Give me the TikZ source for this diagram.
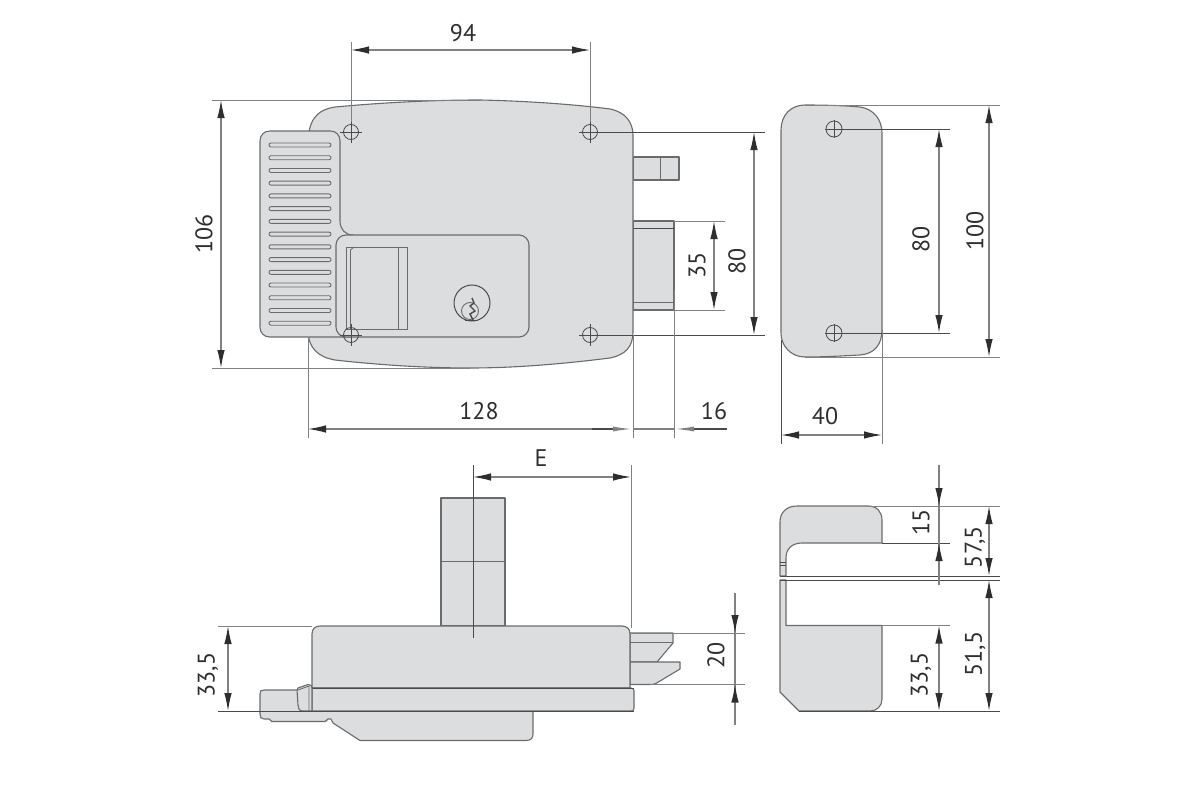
\documentclass[tikz,border=0pt]{standalone}
\usepackage{fontspec}
\setmainfont{PT Sans}
\usetikzlibrary{arrows.meta,calc}
\definecolor{fillgrey}{HTML}{DCDDDF}
\definecolor{edge}{HTML}{6A6B6D}
\definecolor{darkedge}{HTML}{4A4A4C}
\definecolor{dimgrey}{HTML}{808183}
\definecolor{inkgrey}{HTML}{2E2E30}
\tikzset{
  part/.style={fill=fillgrey,draw=edge,line width=1.1pt,line join=round},
  detail/.style={draw=edge,line width=0.9pt},
  darkdetail/.style={draw=darkedge,line width=1pt},
  ext/.style={draw=dimgrey,line width=1pt},
  extdark/.style={draw=darkedge,line width=0.9pt},
  dimline/.style={draw=dimgrey,line width=1.2pt},
  dimboth/.style={dimline,{Latex[length=18pt,width=7.5pt,color=inkgrey]}-{Latex[length=18pt,width=7.5pt,color=inkgrey]}},
  dimend/.style={dimline,-{Latex[length=18pt,width=7.5pt,color=inkgrey]}},
  greytip/.style={draw=darkedge,line width=1.6pt,-{Latex[length=20pt,width=5pt,color=dimgrey]}},
  dimlabel/.style={text=inkgrey,font=\fontsize{24}{24}\selectfont,inner sep=0pt},
  hole/.style={draw=darkedge,line width=0.8pt},
}
\newcommand{\fixhole}[1]{%
  \draw[hole] (#1) circle[radius=7.5];
  \draw[hole] ($(#1)+(-11,0)$) -- ($(#1)+(11,0)$);
  \draw[hole] ($(#1)+(0,-11)$) -- ($(#1)+(0,11)$);
}
\begin{document}
\begin{tikzpicture}[x=1pt,y=-1pt]
\useasboundingbox (0,0) rectangle (1200,800);
% ---------- front view ----------
\draw[part] (633,157) rectangle (679,180);
\draw[detail] (660,157) -- (660,180);
\draw[part] (633,221) rectangle (674,310);
\draw[darkdetail] (633,228) -- (674,228);
\draw[detail] (633,302) -- (674,302);
% plate
\draw[part] (308,145) .. controls (308,122) and (315,110) .. (335,107)
  .. controls (400,101) and (450,100) .. (480,100)
  .. controls (530,101) and (580,105) .. (610,109)
  .. controls (625,112) and (633,122) .. (633,135)
  -- (633,332)
  .. controls (633,347) and (625,355) .. (610,358)
  .. controls (570,363) and (520,368) .. (470,368)
  .. controls (420,368) and (370,364) .. (335,360)
  .. controls (318,357) and (308,348) .. (308,330) -- cycle;
% handle panel and notch
\draw[part] (270,131) -- (330,131) .. controls (336,131) and (340,135) .. (340,141)
  -- (340,221) .. controls (340,229) and (345,235) .. (353,235)
  -- (350,337) -- (270,337) .. controls (264,337) and (260,333) .. (260,327)
  -- (260,141) .. controls (260,135) and (264,131) .. (270,131) -- cycle;
\foreach \i in {0,...,14}{
  \draw[detail,rounded corners=2pt,fill=fillgrey]
    (269,{143+\i*12.73}) rectangle (331,{147+\i*12.73});
}
% lock panel
\draw[part,rounded corners=10pt] (336,235) rectangle (529,337);
% window
\draw[detail] (346,247) rectangle (407,329);
\draw[detail] (398,247) -- (398,329);
\draw[detail] (354,247) -- (350.5,250) -- (350.5,329);
% cylinder
\draw[darkdetail] (472,303) circle[radius=18];
\draw[detail] (470,311) circle[radius=8.5];
\draw[darkedge,line width=1.4pt] (472,298) -- (474,303) -- (470,306) -- (475,311) -- (470,314) -- (473,320);
\draw[darkedge,line width=1pt] (465,320) -- (478,320);
% holes
\fixhole{351,132}
\fixhole{351,335}
\fixhole{590,132}
\fixhole{590,335}
% dims, front view
\draw[ext] (212,100) -- (480,100);
\draw[ext] (212,368) -- (470,368);
\draw[dimboth] (221,100) -- (221,368);
\node[dimlabel,rotate=90] (d106) at (204,234) {106};
\draw[ext] (351,42) -- (351,122);
\draw[ext] (590,42) -- (590,122);
\draw[dimboth] (351,50) -- (590,50);
\node[dimlabel] (d94) at (463,33) {94};
\draw[extdark] (590,132) -- (765,132);
\draw[extdark] (590,335) -- (765,335);
\draw[dimboth] (754,132) -- (754,335);
\node[dimlabel,rotate=90] (d80a) at (737,261) {80};
\draw[ext] (674,221) -- (725,221);
\draw[ext] (674,310) -- (725,310);
\draw[dimboth] (714,221) -- (714,310);
\node[dimlabel,rotate=90] (d35) at (697,265) {35};
\draw[ext] (308,337) -- (308,438);
\draw[ext] (633,335) -- (633,438);
\draw[ext] (674,290) -- (674,438);
\draw[dimline,{Latex[length=18pt,width=7.5pt,color=inkgrey]}-] (308,429) -- (592,429);
\draw[greytip] (592,429) -- (633,429);
\draw[dimline] (633,429) -- (674,429);
\draw[greytip] (727,429) -- (674,429);
\node[dimlabel] (d128) at (479,411) {128};
\node[dimlabel] (d16) at (714,411) {16};
% ---------- side view, top right ----------
\draw[part] (805,105) .. controls (830,105) and (850,106) .. (860,107)
  .. controls (874,109) and (882,120) .. (882,133)
  -- (882,330)
  .. controls (882,345) and (874,354) .. (860,355)
  .. controls (840,356) and (825,357) .. (805,357)
  .. controls (790,357) and (781,345) .. (781,333)
  -- (781,130)
  .. controls (781,115) and (791,105) .. (805,105) -- cycle;
\draw[hole] (834,129) circle[radius=8];
\draw[hole] (825,129) -- (843,129);
\draw[hole] (834,120) -- (834,138);
\draw[hole] (834,333) circle[radius=8];
\draw[hole] (825,333) -- (843,333);
\draw[hole] (834,324) -- (834,342);
\draw[extdark] (834,129) -- (950,129);
\draw[extdark] (834,333) -- (950,333);
\draw[dimboth] (939,129) -- (939,333);
\node[dimlabel,rotate=90] (d80b) at (921,239) {80};
\draw[ext] (805,105) -- (1000,105);
\draw[ext] (805,357) -- (1000,357);
\draw[dimboth] (989,105) -- (989,357);
\node[dimlabel,rotate=90] (d100) at (975,231) {100};
\draw[extdark] (781,340) -- (781,444);
\draw[ext] (882,330) -- (882,444);
\draw[dimboth] (781,435) -- (882,435);
\node[dimlabel] (d40) at (825,416) {40};
% ---------- bottom left view ----------
\draw[part] (441,498) rectangle (505,626);
\draw[detail] (441,561) -- (505,561);
% handle (fill, then its visible outline)
\fill[fillgrey] (260,690) rectangle (335,719);
\fill[fillgrey] (270,719) rectangle (328,721.5);
\draw[edge,line width=1.1pt] (312,690) -- (264,690)
  .. controls (261,690) and (260,691) .. (260,694) -- (260,714)
  .. controls (260,717) and (261,719) .. (264,719) -- (269,719)
  -- (272,721.5) -- (325,721.5) -- (328,719) -- (331,719);
% lower boss
\fill[fillgrey] (331,711) rectangle (340,722);
\fill[fillgrey] (331,711) -- (331,719) -- (333,723) -- (360,740.5) -- (526,740.5)
  .. controls (531,740.5) and (533,738) .. (533,734) -- (533,711) -- cycle;
\draw[edge,line width=1.1pt,line join=round] (331,719) -- (333,723) -- (360,740.5) -- (526,740.5)
  .. controls (531,740.5) and (533,738) .. (533,734) -- (533,711);
% bolts
\draw[part] (630,633) -- (673,633) -- (673,643) -- (657,662) -- (630,662) -- cycle;
\draw[detail] (630,642) -- (673,642);
\draw[part] (630,662) -- (680,662) -- (680,669) -- (660,681)
  .. controls (657,683) and (655,684.5) .. (650,684.5) -- (630,684.5) -- cycle;
% body
\draw[part] (312,688) -- (312,634) .. controls (312,629) and (315,626) .. (320,626)
  -- (622,626) .. controls (627,626) and (630,629) .. (630,634) -- (630,688) -- cycle;
\draw[part] (312,688) -- (631,688) .. controls (633,688) and (634,689) .. (634,691)
  -- (634,708) .. controls (634,710) and (633,711) .. (631,711) -- (312,711) -- cycle;
\draw[darkdetail] (312,688) -- (634,688);
% clip
\draw[part] (297,690) -- (298,688) -- (308,684.5) .. controls (311,684.5) and (312,686) .. (312,688)
  -- (312,711) -- (303,711) .. controls (299,711) and (298,708) .. (298,705) -- cycle;
\draw[detail] (298,690) -- (309,686) -- (309,711);
% dims
\draw[ext] (218,626) -- (312,626);
\draw[extdark] (218,711) -- (634,711);
\draw[dimboth] (228,626) -- (228,711);
\node[dimlabel,rotate=90] (d335a) at (208,675) {33,5};
\draw[darkedge,line width=1pt] (473,465) -- (473,638);
\draw[ext] (631,465) -- (631,628);
\draw[dimboth] (473,477) -- (631,477);
\node[dimlabel] (dE) at (541,458) {E};
\draw[ext] (630,633) -- (745,633);
\draw[ext] (650,684.5) -- (745,684.5);
\draw[dimline] (735,593) -- (735,725);
\draw[dimend] (735,593) -- (735,633);
\draw[dimend] (735,725) -- (735,684.5);
\node[dimlabel,rotate=90] (d20) at (716,655) {20};
% ---------- bottom right view ----------
\draw[part] (780,576) -- (780,522) .. controls (780,512) and (787,506) .. (797,506)
  -- (868,506) .. controls (877,506) and (882,512) .. (882,520)
  -- (882,543) -- (802,543) .. controls (792,543) and (786,549) .. (786,558)
  -- (786,576) -- cycle;
\draw[part] (780,580) -- (786,580) -- (786,625.5) -- (882,625.5) -- (882,699)
  .. controls (882,706) and (877,711) .. (870,711)
  -- (799,711) -- (780,692) -- cycle;
\draw[darkdetail] (780,562) -- (786,562) (780,565) -- (786,565);
\draw[ext] (868,506) -- (1000,506);
\draw[extdark] (882,543) -- (950,543);
\draw[extdark] (780,576) -- (1000,576);
\draw[extdark] (780,580) -- (1000,580);
\draw[ext] (882,625.5) -- (950,625.5);
\draw[extdark] (799,711) -- (1000,711);
\draw[dimline] (939,465) -- (939,585);
\draw[dimend] (939,465) -- (939,506);
\draw[dimend] (939,585) -- (939,543);
\node[dimlabel,rotate=90] (d15) at (921,522) {15};
\draw[dimboth] (939,625.5) -- (939,711);
\node[dimlabel,rotate=90] (d335b) at (921,675) {33,5};
\draw[dimboth] (989,506) -- (989,576);
\node[dimlabel,rotate=90] (d575) at (975,547) {57,5};
\draw[dimboth] (989,580) -- (989,711);
\node[dimlabel,rotate=90] (d515) at (975,654) {51,5};
\end{tikzpicture}
\end{document}
